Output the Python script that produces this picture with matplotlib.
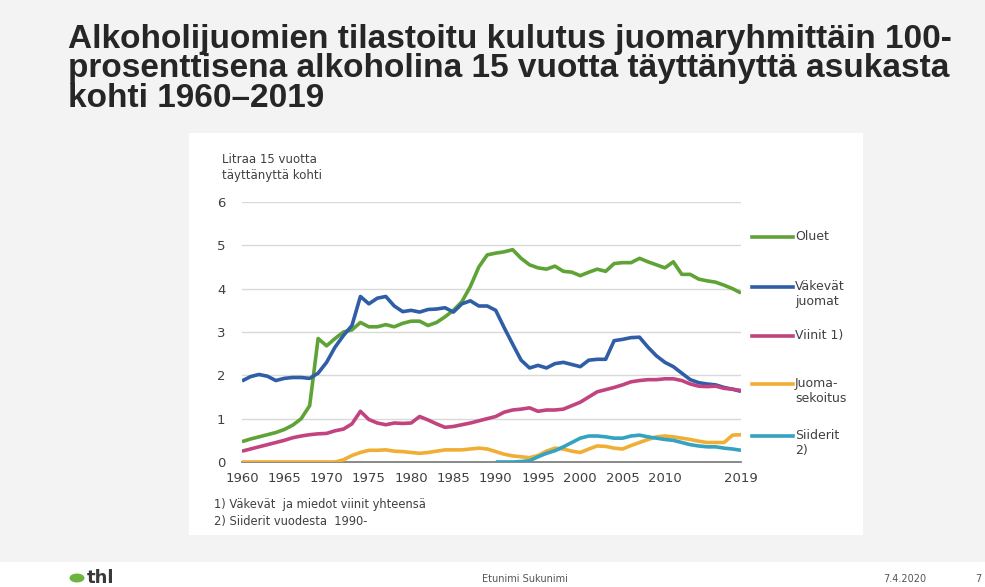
import matplotlib.pyplot as plt
from matplotlib.lines import Line2D
from matplotlib.patches import Rectangle, Circle

# Data (litraa 100 % alkoholia / 15 vuotta täyttänyt)
years = list(range(1960, 2020))
oluet = [0.47, 0.53, 0.58, 0.63, 0.68, 0.75, 0.85, 1.0, 1.3, 2.85,
         2.68, 2.85, 3.0, 3.05, 3.22, 3.12, 3.12, 3.17, 3.12, 3.2,
         3.25, 3.25, 3.15, 3.22, 3.35, 3.5, 3.7, 4.05, 4.5, 4.78,
         4.82, 4.85, 4.9, 4.7, 4.55, 4.48, 4.45, 4.52, 4.4, 4.38,
         4.3, 4.38, 4.45, 4.4, 4.58, 4.6, 4.6, 4.7, 4.62, 4.55,
         4.48, 4.62, 4.33, 4.33, 4.22, 4.18, 4.15, 4.08, 4.0, 3.9]
vakevat = [1.87, 1.97, 2.02, 1.98, 1.88, 1.93, 1.95, 1.95, 1.93, 2.05,
           2.3, 2.65, 2.92, 3.15, 3.82, 3.65, 3.78, 3.82, 3.6, 3.47,
           3.5, 3.46, 3.52, 3.53, 3.56, 3.46, 3.65, 3.72, 3.6, 3.6,
           3.5, 3.1, 2.72, 2.35, 2.17, 2.23, 2.17, 2.27, 2.3, 2.25,
           2.2, 2.35, 2.37, 2.37, 2.8, 2.83, 2.87, 2.88, 2.65, 2.45,
           2.3, 2.2, 2.05, 1.9, 1.83, 1.8, 1.78, 1.72, 1.68, 1.63]
viinit = [0.25, 0.3, 0.35, 0.4, 0.45, 0.5, 0.56, 0.6, 0.63, 0.65,
          0.66, 0.72, 0.76, 0.88, 1.17, 0.98, 0.9, 0.86, 0.9, 0.89,
          0.9, 1.05, 0.97, 0.88, 0.8, 0.82, 0.86, 0.9, 0.95, 1.0,
          1.05, 1.15, 1.2, 1.22, 1.25, 1.17, 1.2, 1.2, 1.22, 1.3,
          1.38, 1.5, 1.62, 1.67, 1.72, 1.78, 1.85, 1.88, 1.9, 1.9,
          1.92, 1.92, 1.88, 1.8, 1.75, 1.74, 1.75, 1.7, 1.68, 1.65]
juomasekoitus = [0.0, 0.0, 0.0, 0.0, 0.0, 0.0, 0.0, 0.0, 0.0, 0.0,
                 0.0, 0.0, 0.05, 0.15, 0.22, 0.27, 0.27, 0.28, 0.25, 0.24,
                 0.22, 0.2, 0.22, 0.25, 0.28, 0.28, 0.28, 0.3, 0.32, 0.3,
                 0.24, 0.18, 0.14, 0.12, 0.1, 0.15, 0.25, 0.32, 0.3, 0.25,
                 0.22, 0.3, 0.37, 0.36, 0.32, 0.3, 0.38, 0.45, 0.52, 0.58,
                 0.6, 0.58, 0.55, 0.52, 0.48, 0.45, 0.45, 0.45, 0.62, 0.63]
siiderit_years = list(range(1990, 2020))
siiderit = [0.0, 0.0, 0.0, 0.01, 0.03, 0.12, 0.2, 0.26, 0.35, 0.45,
            0.55, 0.6, 0.6, 0.58, 0.55, 0.55, 0.6, 0.62, 0.58, 0.55,
            0.52, 0.5, 0.45, 0.4, 0.37, 0.35, 0.35, 0.32, 0.3, 0.27]

xticks = [1960, 1965, 1970, 1975, 1980, 1985, 1990, 1995, 2000, 2005, 2010, 2019]
yticks = [0, 1, 2, 3, 4, 5, 6]

series = [
    ("Oluet", years, oluet, "#5fa336"),
    ("Väkevät\njuomat", years, vakevat, "#2f5ea6"),
    ("Viinit 1)", years, viinit, "#c2437f"),
    ("Juoma-\nsekoitus", years, juomasekoitus, "#f1ae35"),
    ("Siiderit\n2)", siiderit_years, siiderit, "#34a3c2"),
]
legend_y = [237, 287, 336, 384, 436]  # pikseleinä ylhäältä

W, H = 985, 587
fig = plt.figure(figsize=(W / 100, H / 100), dpi=100)
fig.patch.set_facecolor("white")

def fy(px):
    return 1 - px / H

# dian tausta ja valkoinen kuva-alue
fig.add_artist(Rectangle((0, fy(562)), 1, 1 - fy(562), transform=fig.transFigure,
                         facecolor="#f3f3f3", edgecolor="none", zorder=-10))
fig.add_artist(Rectangle((189 / W, fy(535)), (863 - 189) / W, (535 - 133) / H,
                         transform=fig.transFigure, facecolor="white",
                         edgecolor="none", zorder=-9))

fig.text(68 / W, fy(24), "Alkoholijuomien tilastoitu kulutus juomaryhmittäin 100-\n"
         "prosenttisena alkoholina 15 vuotta täyttänyttä asukasta\nkohti 1960–2019",
         ha="left", va="top", fontsize=24, fontweight="bold", color="#262626",
         family="Liberation Sans", linespacing=0.93)

ax = fig.add_axes([242 / W, fy(462), (741 - 242) / W, (462 - 202) / H])
ax.set_facecolor("none")
for name, xs, ys, color in series:
    ax.plot(xs, ys, color=color, lw=2.6, solid_capstyle="butt", zorder=3)

ax.set_xlim(1960, 2019)
ax.set_ylim(0, 6)
ax.set_yticks(yticks)
ax.set_xticks(xticks)
ax.set_xticklabels([str(x) for x in xticks])
ax.grid(axis="y", color="#d9d9d9", lw=1)
ax.set_axisbelow(True)
for s in ["top", "right", "left"]:
    ax.spines[s].set_visible(False)
ax.spines["bottom"].set_color("#808080")
ax.spines["bottom"].set_linewidth(1.3)
ax.spines["bottom"].set_zorder(2.5)
ax.tick_params(length=0, labelsize=9.5, labelcolor="#404040")
ax.tick_params(axis="y", pad=12)
ax.tick_params(axis="x", pad=7)

fig.text(222 / W, fy(153), "Litraa 15 vuotta\ntäyttänyttä kohti", ha="left", va="top",
         fontsize=8.5, color="#404040", linespacing=1.25)
fig.text(214 / W, fy(498), "1) Väkevät  ja miedot viinit yhteensä\n2) Siiderit vuodesta  1990-",
         ha="left", va="top", fontsize=8.3, color="#404040", linespacing=1.35)

# selite
for (name, xs, ys, color), py in zip(series, legend_y):
    fig.add_artist(Line2D([752 / W, 793 / W], [fy(py), fy(py)], transform=fig.transFigure,
                          color=color, lw=2.6))
    fig.text(795 / W, fy(py - 7), name, ha="left", va="top", fontsize=9,
             color="#404040", linespacing=1.2)

# alatunniste
fig.add_artist(Circle((77 / W, fy(578)), 7.5 / W, transform=fig.transFigure,
                      facecolor="#6cb33f", edgecolor="none"))
fig.text(87 / W, fy(578), "thl", ha="left", va="center", fontsize=13,
         fontweight="bold", color="#3a3a3a")
fig.text(525 / W, fy(579), "Etunimi Sukunimi", ha="center", va="center",
         fontsize=7, color="#555555")
fig.text(905 / W, fy(579), "7.4.2020", ha="center", va="center",
         fontsize=7, color="#555555")
fig.text(978 / W, fy(579), "7", ha="center", va="center",
         fontsize=7, color="#555555")

fig.savefig("out.png", dpi=100)
